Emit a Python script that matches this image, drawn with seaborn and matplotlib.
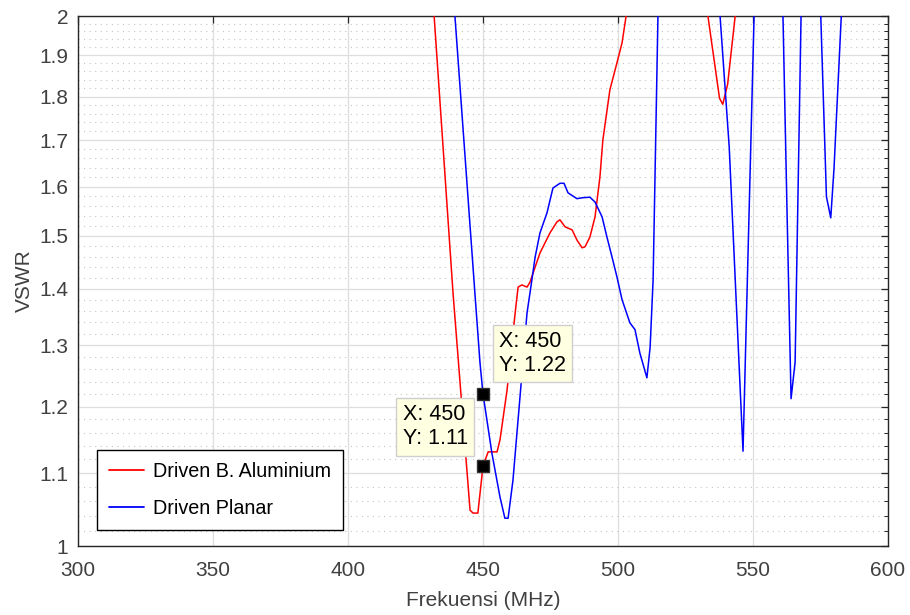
import numpy as np
import pandas as pd
import matplotlib
matplotlib.use("Agg")
import matplotlib.pyplot as plt
import seaborn as sns
from matplotlib.ticker import FixedLocator, FixedFormatter, NullFormatter, NullLocator
from matplotlib.lines import Line2D

# ---- data ----
freq_al = [429.3, 431.9, 438.9, 445.2, 446.3, 448.1, 450.0, 451.9, 455.2, 456.3, 458.9,
           461.9, 463.0, 464.4, 466.3, 467.4, 471.1, 474.8, 477.4, 478.5, 480.4, 483.0,
           484.8, 486.7, 487.8, 489.6, 491.5, 493.3, 494.4, 497.0, 499.6, 501.5, 503.0,
           504.5, 518.0, 532.0, 533.3, 537.6, 538.8, 540.6, 543.4, 545.0, 600.0]
vswr_al = [2.2, 2.0, 1.392, 1.048, 1.044, 1.044, 1.11, 1.131, 1.131, 1.149, 1.226,
           1.356, 1.403, 1.407, 1.403, 1.412, 1.467, 1.506, 1.528, 1.532, 1.518, 1.512,
           1.492, 1.477, 1.479, 1.498, 1.538, 1.620, 1.701, 1.816, 1.881, 1.931, 2.0,
           2.15, 2.8, 2.15, 2.0, 1.796, 1.782, 1.829, 2.0, 2.2, 3.0]

freq_pl = [437.7, 439.6, 447.0, 448.9, 450.0, 453.3, 456.3, 458.1, 459.3, 461.1, 463.7,
           466.3, 468.1, 469.3, 471.1, 473.7, 475.9, 478.5, 480.0, 481.5, 484.8, 487.0,
           489.6, 491.5, 494.1, 495.9, 497.8, 499.6, 501.5, 504.4, 506.3, 508.1, 510.7,
           511.9, 513.0, 514.8, 515.3, 526.0, 536.5, 537.8, 541.2, 546.3, 547.9, 550.4,
           550.8, 556.0, 560.6, 561.1, 562.6, 564.1, 565.6, 567.8, 568.3, 571.5, 574.6,
           575.1, 577.2, 578.8, 580.0, 582.7, 583.2, 600.0]
vswr_pl = [2.2, 2.0, 1.392, 1.270, 1.22, 1.129, 1.066, 1.037, 1.037, 1.090, 1.215,
           1.356, 1.416, 1.459, 1.506, 1.546, 1.597, 1.607, 1.607, 1.587, 1.575, 1.577,
           1.578, 1.568, 1.538, 1.498, 1.459, 1.422, 1.380, 1.339, 1.327, 1.287, 1.246,
           1.297, 1.416, 2.0, 2.1, 2.8, 2.1, 2.0, 1.684, 1.132, 1.414, 2.0,
           2.1, 2.8, 2.1, 2.0, 1.55, 1.2125, 1.272, 2.0, 2.1, 2.8, 2.1,
           2.0, 1.579, 1.536, 1.638, 2.0, 2.1, 2.8]

series_names = ["Driven B. Aluminium", "Driven Planar"]
series_colors = ["#ff0000", "#0000ff"]

tip_x = [450, 450]
tip_y = [1.22, 1.11]

x_ticks = [300, 350, 400, 450, 500, 550, 600]
y_ticks = [1.0, 1.1, 1.2, 1.3, 1.4, 1.5, 1.6, 1.7, 1.8, 1.9, 2.0]
y_tick_labels = ["1", "1.1", "1.2", "1.3", "1.4", "1.5", "1.6", "1.7", "1.8", "1.9", "2"]
y_minor = [round(1 + 0.02 * i, 2) for i in range(51)]

df = pd.concat([
    pd.DataFrame({"freq": freq_al, "vswr": vswr_al, "series": series_names[0]}),
    pd.DataFrame({"freq": freq_pl, "vswr": vswr_pl, "series": series_names[1]}),
], ignore_index=True)

# ---- style ----
sns.set_theme(style="white")
plt.rcParams["font.family"] = ["Liberation Sans", "DejaVu Sans"]
axis_col = "#262626"
text_col = "#404040"

fig = plt.figure(figsize=(9.1, 6.15), dpi=100)
ax = fig.add_axes([78 / 910, 1 - 546 / 615, 810 / 910, 530 / 615])

sns.lineplot(data=df, x="freq", y="vswr", hue="series", hue_order=series_names,
             palette=dict(zip(series_names, series_colors)), estimator=None,
             sort=False, linewidth=1.1, ax=ax, legend=False, zorder=3)

ax.set_yscale("log")
ax.set_xlim(300, 600)
ax.set_ylim(1, 2)

ax.xaxis.set_major_locator(FixedLocator(x_ticks))
ax.xaxis.set_minor_locator(NullLocator())
ax.yaxis.set_major_locator(FixedLocator(y_ticks))
ax.yaxis.set_major_formatter(FixedFormatter(y_tick_labels))
ax.yaxis.set_minor_locator(FixedLocator([v for v in y_minor if v not in y_ticks]))
ax.yaxis.set_minor_formatter(NullFormatter())

ax.set_axisbelow(True)
ax.grid(which="major", color="#dedede", linewidth=0.9, linestyle="-")
ax.grid(which="minor", axis="y", color="#c4c4c4", linewidth=0.8, linestyle=(0, (1, 4)))

for s in ax.spines.values():
    s.set_color(axis_col)
    s.set_linewidth(1.0)
    s.set_visible(True)

ax.tick_params(which="both", direction="in", top=True, right=True, color=axis_col)
ax.tick_params(which="major", length=5, width=0.9)
ax.tick_params(which="minor", length=3, width=0.7)
ax.tick_params(axis="both", which="major", labelsize=15, labelcolor=text_col)
ax.tick_params(axis="x", pad=11)
ax.tick_params(axis="y", pad=7)

ax.set_xlabel("Frekuensi (MHz)", fontsize=15, color=text_col, labelpad=8)
ax.set_ylabel("VSWR", fontsize=15, color=text_col, labelpad=4)

# data tips
ax.plot(tip_x, tip_y, linestyle="none", marker="s", markersize=9,
        markerfacecolor="black", markeredgecolor="#333333", zorder=5)
tip_box = dict(boxstyle="square,pad=0.3", fc="#ffffe1", ec="#cfcfcf", lw=1)
ax.annotate(f"X: {tip_x[0]}\nY: {tip_y[0]:.2f}", xy=(tip_x[0], tip_y[0]),
            xytext=(16, 18), textcoords="offset pixels", ha="left", va="bottom",
            multialignment="left", fontsize=15.5, color="black", linespacing=1.18,
            bbox=tip_box, zorder=6)
ax.annotate(f"X: {tip_x[1]}\nY: {tip_y[1]:.2f}", xy=(tip_x[1], tip_y[1]),
            xytext=(-15, 17), textcoords="offset pixels", ha="right", va="bottom",
            multialignment="left", fontsize=15.5, color="black", linespacing=1.18,
            bbox=tip_box, zorder=6)

handles = [Line2D([0], [0], color=c, lw=1.3) for c in series_colors]
leg = ax.legend(handles, series_names, loc="lower left", bbox_to_anchor=(0.0235, 0.03),
                fontsize=14.2, frameon=True, fancybox=False, framealpha=1,
                edgecolor="black", borderpad=0.6, labelspacing=0.95,
                handlelength=1.8, handletextpad=0.45, borderaxespad=0)
leg.get_frame().set_linewidth(1.0)
for t in leg.get_texts():
    t.set_color("black")
leg.set_zorder(7)

fig.savefig("out.png", dpi=100, facecolor="white")
